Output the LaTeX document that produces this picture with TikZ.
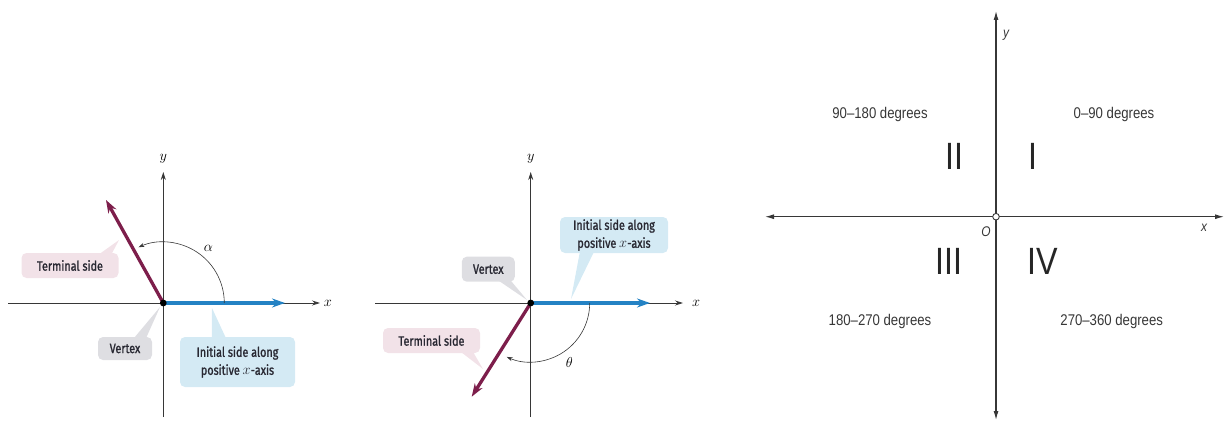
\documentclass[tikz,border=0pt]{standalone}
\usepackage{fontspec}
\newfontfamily\condfont[FakeStretch=0.85]{Liberation Sans}
\newfontfamily\lblfont[FakeStretch=0.8,FakeBold=1.3]{Fira Sans}
\usetikzlibrary{arrows.meta,calc}
\definecolor{initblue}{RGB}{36,130,196}
\definecolor{termred}{RGB}{125,30,75}
\definecolor{pinkbox}{RGB}{242,226,232}
\definecolor{graybox}{RGB}{222,222,226}
\definecolor{bluebox}{RGB}{212,234,244}
\definecolor{axisgray}{RGB}{55,55,55}
\definecolor{txtdark}{RGB}{40,40,50}
\tikzset{
  axis/.style={draw=axisgray,line width=0.8pt,-{Stealth[length=8pt,width=5pt]}},
  initside/.style={draw=initblue,line width=3.3pt,-{Stealth[length=13pt,width=9pt]}},
  termside/.style={draw=termred,line width=3.3pt,-{Stealth[length=13pt,width=9pt]}},
  anglearc/.style={draw=axisgray,line width=0.6pt,-{Stealth[length=6pt,width=4pt]}},
  callout/.style={rounded corners=5pt,inner sep=0pt,align=center,font=\lblfont\fontsize{13.5}{18}\selectfont,text=txtdark},
  pinkcall/.style={callout,fill=pinkbox},
  graycall/.style={callout,fill=graybox},
  bluecall/.style={callout,fill=bluebox},
  quadaxis/.style={draw=axisgray,line width=1.1pt,{Latex[length=9pt,width=5pt]}-{Latex[length=9pt,width=5pt]}},
  degtext/.style={font=\condfont\fontsize{15.5}{18}\selectfont,text=axisgray},
  roman/.style={font=\condfont\fontsize{38}{40}\selectfont,text=black!85},
  axlab/.style={font=\fontsize{15}{16}\selectfont},
  qlab/.style={font=\condfont\itshape\fontsize{14}{16}\selectfont,text=axisgray}
}
\begin{document}
\begin{tikzpicture}[x=1pt,y=1pt]
\useasboundingbox (0,0) rectangle (1225,421);
% ---------------- Panel 1 ----------------
\coordinate (o1) at (163.3,118);
\coordinate (x1l) at (8,118);
\coordinate (x1r) at (320,118);
\coordinate (y1b) at (163.3,4);
\coordinate (y1t) at (163.3,249);
\draw[axis] (x1l) -- (x1r);
\draw[axis] (y1b) -- (y1t);
\node[axlab] (x1lab) at (328,118) {$x$};
\node[axlab] (y1lab) at (163.3,262) {$y$};
\coordinate (i1end) at (285,118);
\coordinate (t1end) at (106,221);
\node[pinkcall,minimum width=97pt,minimum height=25pt] (term1) at (70,155.5) {Terminal side};
\node[graycall,minimum width=54pt,minimum height=23pt] (vert1) at (125,72.5) {Vertex};
\node[bluecall,minimum width=115pt,minimum height=50pt] (init1) at (237.5,59) {Initial side along\\positive $x$-axis};
\coordinate (t1tip) at (119,181);
\coordinate (v1tip) at (160,114);
\coordinate (i1tip) at (212,113);
\fill[pinkbox] ($(term1.north east)+(-19,-1)$) -- ($(term1.north east)+(-7,-1)$) -- (t1tip) -- cycle;
\fill[graybox] ($(vert1.north east)+(-18,-1)$) -- ($(vert1.north east)+(-6,-1)$) -- (v1tip) -- cycle;
\fill[bluebox] ($(init1.north west)+(32,-1)$) -- ($(init1.north west)+(46,-1)$) -- (i1tip) -- cycle;
\draw[initside] (o1) -- (i1end);
\draw[termside] (o1) -- (t1end);
\draw[anglearc] ($(o1)+(61,0)$) arc[start angle=0,end angle=114,radius=61];
\node[axlab] (alpha) at (208.3,172.7) {$\alpha$};
\fill[black] (o1) circle[radius=3.4];
% ---------------- Panel 2 ----------------
\coordinate (o2) at (530.7,118);
\coordinate (x2l) at (375,118);
\coordinate (x2r) at (683,118);
\coordinate (y2b) at (530.7,4);
\coordinate (y2t) at (530.7,249);
\draw[axis] (x2l) -- (x2r);
\draw[axis] (y2b) -- (y2t);
\node[axlab] (x2lab) at (696,118) {$x$};
\node[axlab] (y2lab) at (530.7,262) {$y$};
\coordinate (i2end) at (650,118);
\coordinate (t2end) at (471.7,24.3);
\node[bluecall,minimum width=108pt,minimum height=36pt] (init2) at (614,186) {Initial side along\\positive $x$-axis};
\node[graycall,minimum width=53pt,minimum height=25pt] (vert2) at (488.3,151.8) {Vertex};
\node[pinkcall,minimum width=97pt,minimum height=25pt] (term2) at (431.5,80.5) {Terminal side};
\coordinate (i2tip) at (571,122);
\coordinate (v2tip) at (527,121);
\coordinate (t2tip) at (483,52);
\fill[bluebox] ($(init2.south west)+(20,1)$) -- ($(init2.south west)+(34,1)$) -- (i2tip) -- cycle;
\fill[graybox] ($(vert2.south east)+(-16,1)$) -- ($(vert2.south east)+(-4,1)$) -- (v2tip) -- cycle;
\fill[pinkbox] ($(term2.south east)+(-19,1)$) -- ($(term2.south east)+(-7,1)$) -- (t2tip) -- cycle;
\draw[initside] (o2) -- (i2end);
\draw[termside] (o2) -- (t2end);
\draw[anglearc] ($(o2)+(59,0)$) arc[start angle=0,end angle=-114,radius=59];
\node[axlab] (theta) at (569.3,58.3) {$\theta$};
\fill[black] (o2) circle[radius=3.4];
% ---------------- Panel 3 ----------------
\coordinate (o3) at (996,204.3);
\coordinate (x3l) at (765,204.3);
\coordinate (x3r) at (1224,204.3);
\coordinate (y3b) at (996,1);
\coordinate (y3t) at (996,410);
\draw[quadaxis] (x3l) -- (x3r);
\draw[quadaxis] (y3b) -- (y3t);
\node[qlab] (y3lab) at (1006,386) {y};
\node[qlab] (x3lab) at (1204,193) {x};
\node[qlab] (olab) at (986,189.3) {O};
\draw[axisgray,fill=white,line width=0.9pt] (o3) circle[radius=3.3];
\node[degtext] (q2deg) at (880,307) {90–180 degrees};
\node[degtext] (q1deg) at (1114,307) {0–90 degrees};
\node[degtext] (q3deg) at (880,99.3) {180–270 degrees};
\node[degtext] (q4deg) at (1111.7,99.3) {270–360 degrees};
\node[roman] (rII) at (954,264.3) {II};
\node[roman] (rI) at (1032.7,264.3) {I};
\node[roman] (rIII) at (949,160) {III};
\node[roman] (rIV) at (1043,160) {IV};
\end{tikzpicture}
\end{document}
